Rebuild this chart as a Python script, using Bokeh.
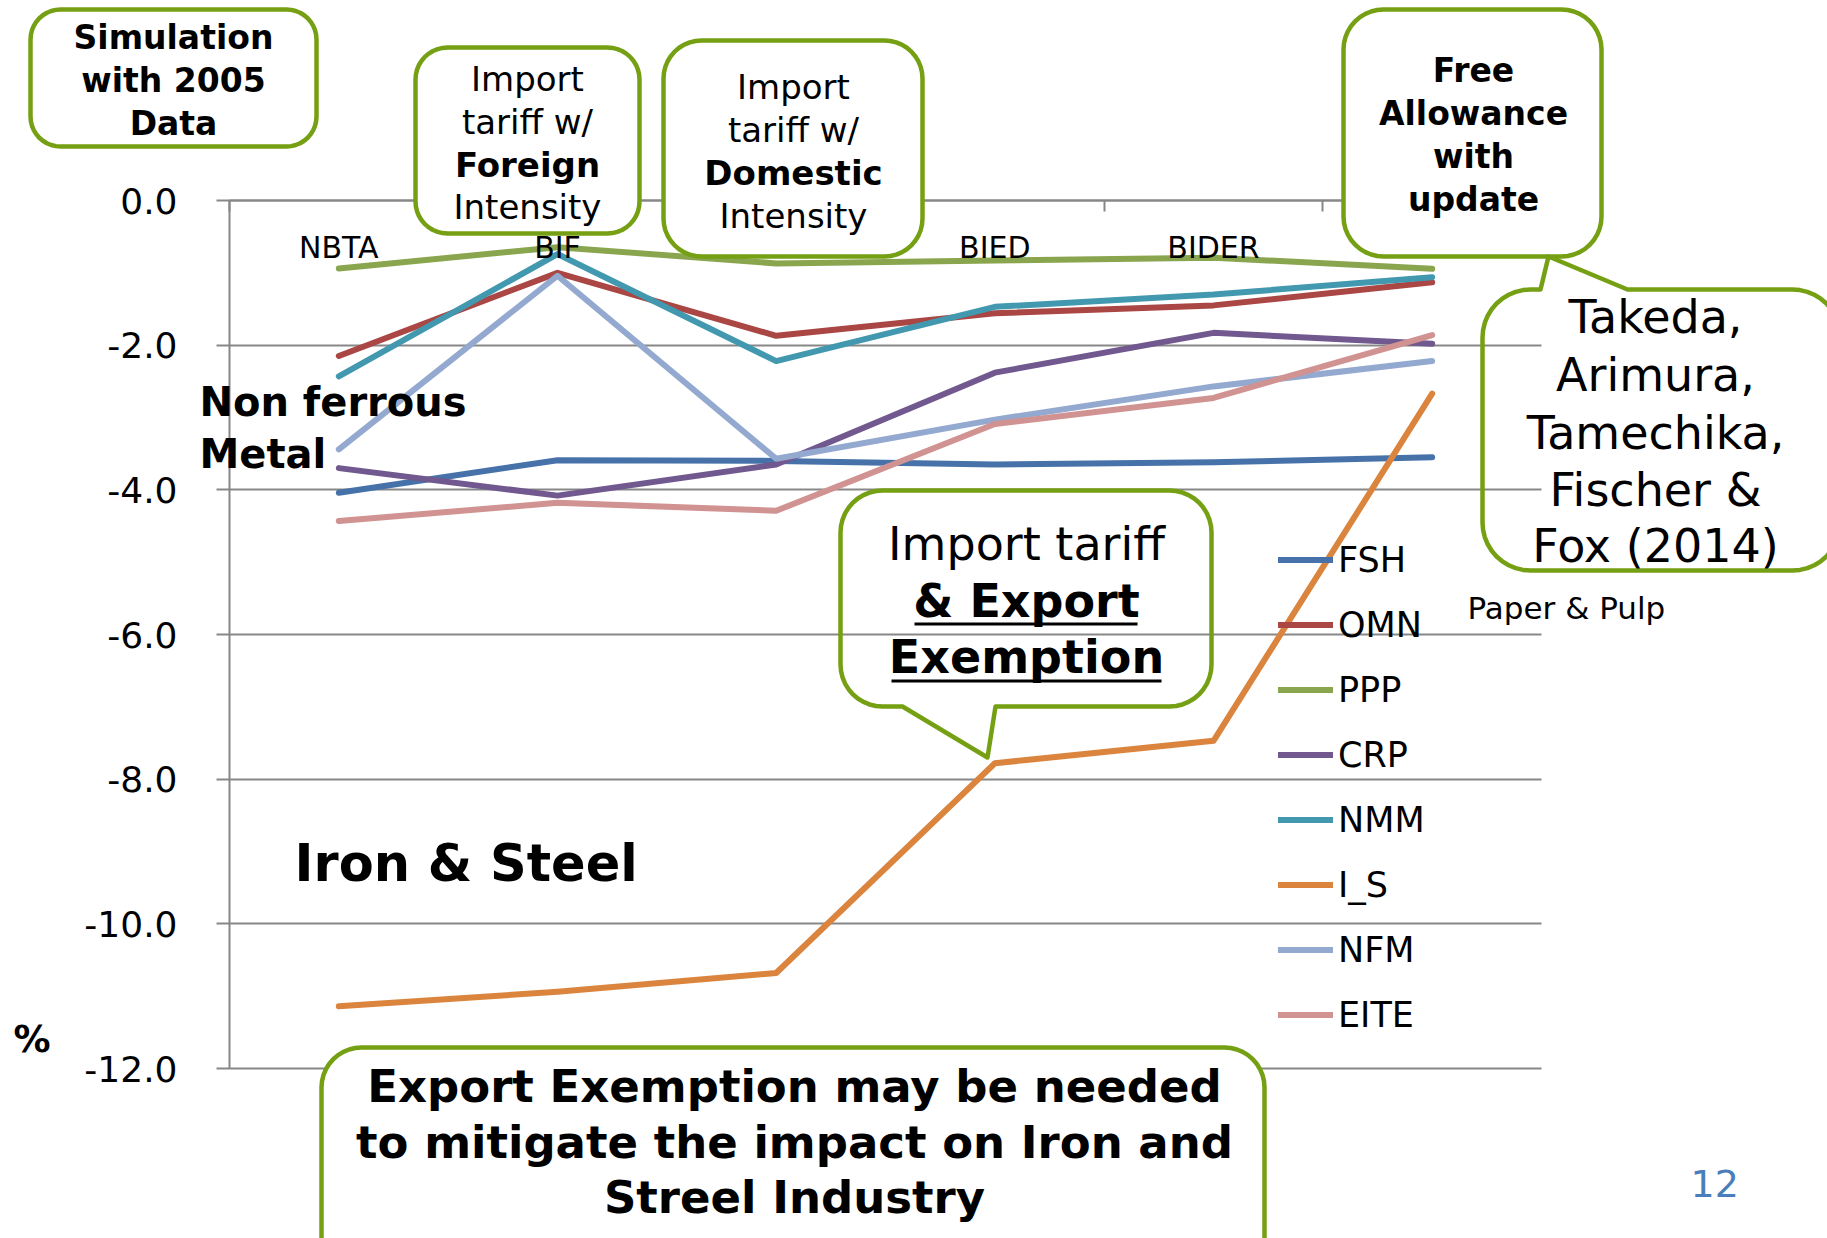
import math
from bokeh.plotting import figure
from bokeh.models import (Range1d, FixedTicker, PrintfTickFormatter, Label,
                          PolyAnnotation, Legend, LegendItem, LinearAxis)
from bokeh.embed import file_html
from bokeh.resources import INLINE

# ---------------- data ----------------
categories = ["NBTA", "BIF", "BID", "BIED", "BIDER", "OBA"]
shown_category_labels = ["NBTA", "BIF", "BIED", "BIDER"]   # the others are hidden under the call-out boxes

series_names = ["FSH", "OMN", "PPP", "CRP", "NMM", "I_S", "NFM", "EITE"]
fsh  = [-4.04, -3.59, -3.60, -3.65, -3.62, -3.55]
omn  = [-2.15, -1.00, -1.87, -1.56, -1.45, -1.13]
ppp  = [-0.94, -0.645, -0.87, -0.83, -0.79, -0.945]
crp  = [-3.70, -4.08, -3.65, -2.38, -1.83, -1.98]
nmm  = [-2.43, -0.74, -2.22, -1.47, -1.30, -1.06]
i_s  = [-11.14, -10.94, -10.68, -7.78, -7.47, -2.67]
nfm  = [-3.44, -1.04, -3.57, -3.03, -2.57, -2.22]
eite = [-4.43, -4.18, -4.29, -3.09, -2.73, -1.86]
series_values = [fsh, omn, ppp, crp, nmm, i_s, nfm, eite]
series_colors = ["#4672A9", "#AA4643", "#89A54E", "#71588F",
                 "#4198AF", "#DB843D", "#93A9CF", "#D19392"]

y_ticks = [0, -2, -4, -6, -8, -10, -12]
y_min, y_max = -12, 0

# ---------------- layout (reference pixels) ----------------
W, H = 1827, 1238
PLOT_L, PLOT_R, PLOT_T, PLOT_B = 229, 1541, 200, 1068
NCAT = len(categories)
PX_X = (PLOT_R - PLOT_L) / NCAT
PX_Y = (PLOT_B - PLOT_T) / (y_max - y_min)


def dx(px):
    return (px - PLOT_L) / PX_X


def dy(py):
    return y_max - (py - PLOT_T) / PX_Y


p = figure(width=W, height=H, x_range=Range1d(dx(0), dx(W)),
           y_range=Range1d(dy(H), dy(0)), output_backend="svg",
           toolbar_location=None, x_axis_type=None, y_axis_type=None,
           min_border=0)
p.outline_line_color = None
p.background_fill_color = "white"
p.border_fill_color = "white"
p.xgrid.visible = False
p.ygrid.visible = False

GRID = "#878787"
FONT = "DejaVu Sans"
GREEN = "#76A013"

# y axis, fixed at the first category edge; long inward ticks act as gridlines
ya = LinearAxis(fixed_location=0, bounds=(y_min, y_max))
ya.ticker = FixedTicker(ticks=y_ticks)
ya.formatter = PrintfTickFormatter(format="%.1f")
ya.major_label_text_font = FONT
ya.major_label_text_font_size = "36px"
ya.major_label_text_color = "black"
ya.major_tick_out = 13
ya.major_tick_in = int(PLOT_R - PLOT_L)
ya.minor_tick_out = 0
ya.minor_tick_in = 0
ya.axis_line_color = GRID
ya.axis_line_width = 2
ya.major_tick_line_color = GRID
ya.major_tick_line_width = 2
ya.major_label_standoff = 39
ya.level = "underlay"
p.add_layout(ya, "left")

# category axis, fixed at y = 0 with labels below the line
xa = LinearAxis(fixed_location=0, bounds=(0, NCAT))
xa.ticker = FixedTicker(ticks=[categories.index(c) + 0.5 for c in shown_category_labels],
                        minor_ticks=list(range(NCAT + 1)))
xa.major_label_overrides = {categories.index(c) + 0.5: c for c in shown_category_labels}
xa.major_label_text_font = FONT
xa.major_label_text_font_size = "30px"
xa.major_label_text_color = "black"
xa.major_tick_in = 0
xa.major_tick_out = 0
xa.minor_tick_in = 0
xa.minor_tick_out = 11
xa.minor_tick_line_color = GRID
xa.minor_tick_line_width = 2
xa.axis_line_color = GRID
xa.axis_line_width = 2
xa.major_label_standoff = 18
p.add_layout(xa, "below")

xs = [i + 0.5 for i in range(NCAT)]
renderers = []
for name, vals, col in zip(series_names, series_values, series_colors):
    r = p.line(xs, vals, line_color=col, line_width=6, line_join="round", line_cap="round")
    renderers.append(r)

legend = Legend(items=[LegendItem(label=n, renderers=[r]) for n, r in zip(series_names, renderers)],
                location=(1278, 203), label_text_font=FONT, label_text_font_size="35px",
                label_text_color="black",
                glyph_width=55, glyph_height=41, label_height=41, label_standoff=5,
                spacing=24, padding=0, margin=0, border_line_alpha=0,
                background_fill_alpha=0)
p.add_layout(legend)


# ------------- decorations (positions in reference pixels) -------------
def rounded(x0, y0, x1, y1, r, tail=None, side=None, n=10):
    ptsx, ptsy = [], []

    def arc(cx, cy, a0, a1):
        for k in range(n + 1):
            t = math.radians(a0 + (a1 - a0) * k / n)
            ptsx.append(cx + r * math.cos(t))
            ptsy.append(cy + r * math.sin(t))

    arc(x0 + r, y0 + r, 180, 270)
    if tail and side == "top":
        ax, tx, ty, bx = tail
        ptsx += [ax, tx, bx]
        ptsy += [y0, ty, y0]
    arc(x1 - r, y0 + r, 270, 360)
    arc(x1 - r, y1 - r, 0, 90)
    if tail and side == "bottom":
        bx, tx, ty, ax = tail
        ptsx += [bx, tx, ax]
        ptsy += [y1, ty, y1]
    arc(x0 + r, y1 - r, 90, 180)
    return [dx(v) for v in ptsx], [dy(v) for v in ptsy]


def box(x0, y0, x1, y1, r, filled=True, tail=None, side=None):
    bx, by = rounded(x0, y0, x1, y1, r, tail, side)
    p.add_layout(PolyAnnotation(xs=bx, ys=by, xs_units="data", ys_units="data",
                                fill_color="white", fill_alpha=1.0 if filled else 0.0,
                                line_color=GREEN, line_alpha=1.0, line_width=4.5,
                                line_join="round"))


def txt(s, px, py, size, bold=False, align="center", color="black"):
    p.add_layout(Label(x=dx(px), y=dy(py), text=s, text_font=FONT,
                       text_font_size=f"{size}px",
                       text_font_style="bold" if bold else "normal",
                       text_align=align, text_baseline="middle",
                       text_color=color))


def underline(x0, x1, py, t=3):
    ux = [dx(x0), dx(x1), dx(x1), dx(x0)]
    uy = [dy(py), dy(py), dy(py + t), dy(py + t)]
    p.add_layout(PolyAnnotation(xs=ux, ys=uy, fill_color="black", fill_alpha=1,
                                line_alpha=0))


# boxes
box(30, 9, 316, 146, 30)
box(415, 47, 639, 233, 32)
box(663, 40, 922, 256, 38)
box(1343, 9, 1601, 256, 40)
box(1482, 289, 1840, 570, 48, filled=False, tail=(1540, 1548, 256, 1627), side="top")
box(840, 490, 1211, 706, 42, filled=False, tail=(995, 987, 757, 902), side="bottom")
box(321, 1047, 1264, 1290, 40)

# box texts (y = visual middle of the capitals)
for s, y in [("Simulation", 37), ("with 2005", 80), ("Data", 123)]:
    txt(s, 173, y, 33, bold=True)
for s, y, b in [("Import", 78, False), ("tariff w/", 121, False), ("Foreign", 164, True), ("Intensity", 206, False)]:
    txt(s, 527, y, 34, bold=b)
for s, y, b in [("Import", 86, False), ("tariff w/", 129, False), ("Domestic", 172, True), ("Intensity", 215, False)]:
    txt(s, 793, y, 34, bold=b)
for s, y in [("Free", 70), ("Allowance", 113), ("with", 156), ("update", 199)]:
    txt(s, 1473, y, 33, bold=True)
for s, y in [("Takeda,", 316), ("Arimura,", 374), ("Tamechika,", 432), ("Fischer &", 489), ("Fox (2014)", 545)]:
    txt(s, 1655, y, 46)
txt("Import tariff", 1026, 543, 46)
txt("& Export", 1026, 600, 46, bold=True)
txt("Exemption", 1026, 656, 46, bold=True)
underline(914, 1137, 622)
underline(891, 1161, 679)
for s, y in [("Export Exemption may be needed", 1086),
             ("to mitigate the impact on Iron and", 1142),
             ("Streel Industry", 1197)]:
    txt(s, 794, y, 45, bold=True)

# free texts
txt("Non ferrous", 199, 401, 40, bold=True, align="left")
txt("Metal", 199, 453, 40, bold=True, align="left")
txt("Iron & Steel", 294, 863, 51, bold=True, align="left")
txt("Paper & Pulp", 1467, 607, 31, align="left")
txt("%", 13, 1039, 37, bold=True, align="left")
txt("12", 1690, 1183, 38, align="left", color="#4A7EBB")

open("out.html", "w").write(file_html(p, INLINE))
